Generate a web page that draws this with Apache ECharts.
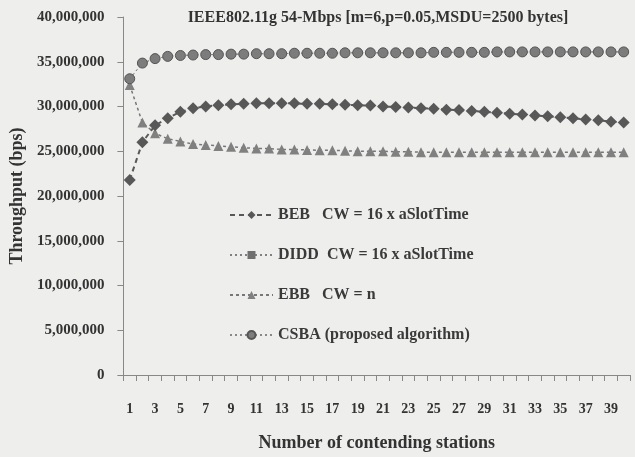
<!DOCTYPE html>
<html>
<head>
<meta charset="utf-8">
<script src="https://cdn.jsdelivr.net/npm/echarts@6/dist/echarts.min.js"></script>
<style>html,body{margin:0;padding:0;background:#eeeeec}#c{width:635px;height:457px}</style>
</head>
<body>
<div id="c"></div>
<script>
const titleText = 'IEEE802.11g 54-Mbps [m=6,p=0.05,MSDU=2500 bytes]';
const xName = 'Number of contending stations';
const yName = 'Throughput (bps)';
const stations = Array.from({length: 40}, (_, i) => String(i + 1));
const seriesNames = ['BEB   CW = 16 x aSlotTime', 'DIDD  CW = 16 x aSlotTime', 'EBB   CW = n', 'CSBA (proposed algorithm)'];
// values in Mbps (millions of bps)
const beb = [21.8, 26.0, 27.9, 28.7, 29.4, 29.8, 30.0, 30.15, 30.25, 30.3, 30.35, 30.35, 30.35, 30.35, 30.3, 30.3, 30.25, 30.2, 30.15, 30.1, 30.0, 29.95, 29.9, 29.8, 29.75, 29.65, 29.6, 29.5, 29.4, 29.3, 29.2, 29.1, 29.0, 28.9, 28.8, 28.7, 28.55, 28.45, 28.3, 28.2];
const ebb = [32.4, 28.2, 27.0, 26.4, 26.1, 25.8, 25.7, 25.6, 25.5, 25.4, 25.3, 25.3, 25.2, 25.2, 25.15, 25.1, 25.1, 25.05, 25.0, 25.0, 25.0, 24.95, 24.95, 24.9, 24.9, 24.9, 24.9, 24.9, 24.9, 24.9, 24.9, 24.9, 24.9, 24.9, 24.9, 24.9, 24.9, 24.9, 24.9, 24.9];
const csba = [33.1, 34.85, 35.35, 35.6, 35.7, 35.75, 35.8, 35.8, 35.85, 35.85, 35.9, 35.9, 35.9, 35.95, 35.95, 35.95, 35.95, 36.0, 36.0, 36.0, 36.0, 36.0, 36.0, 36.0, 36.05, 36.05, 36.05, 36.05, 36.05, 36.1, 36.1, 36.1, 36.1, 36.1, 36.1, 36.1, 36.1, 36.1, 36.1, 36.1];
const didd = csba.slice(); // not visible in the reference: hidden under CSBA
const yMin = 0, yMax = 40000000, yStep = 5000000;

const toBps = a => a.map(v => Math.round(v * 1e6));
const font = 'Liberation Serif';
const chart = echarts.init(document.getElementById('c'), null, {renderer: 'canvas'});
chart.setOption({
  backgroundColor: '#eeeeec',
  animation: false,
  title: {
    text: titleText, left: 373, top: 5, textAlign: 'center',
    textStyle: {fontFamily: font, fontWeight: 'bold', fontSize: 16, color: '#333'}
  },
  grid: {left: 120, right: 5, top: 17, bottom: 78},
  legend: {
    orient: 'vertical', left: 229, top: 207, padding: 0, itemGap: 24, itemWidth: 43, itemHeight: 10,
    data: seriesNames,
    textStyle: {fontFamily: font, fontWeight: 'bold', fontSize: 16, color: '#3a3a3a'}
  },
  xAxis: {
    type: 'category', data: stations, boundaryGap: true,
    name: xName, nameLocation: 'middle', nameGap: 59,
    nameTextStyle: {fontFamily: font, fontWeight: 'bold', fontSize: 18, color: '#333'},
    axisLine: {lineStyle: {color: '#888', width: 1}},
    axisTick: {show: true, length: 6, interval: 0, lineStyle: {color: '#888'}},
    axisLabel: {interval: 1, margin: 27, fontFamily: font, fontWeight: 'bold', fontSize: 14, color: '#333'},
    splitLine: {show: false}
  },
  yAxis: {
    type: 'value', min: yMin, max: yMax, interval: yStep,
    name: yName, nameLocation: 'middle', nameGap: 96,
    nameTextStyle: {fontFamily: font, fontWeight: 'bold', fontSize: 18, color: '#333'},
    axisLine: {show: true, lineStyle: {color: '#888', width: 1}},
    axisTick: {show: true, length: 6, lineStyle: {color: '#888'}},
    axisLabel: {margin: 19, fontFamily: font, fontWeight: 'bold', fontSize: 15, color: '#333',
      formatter: v => v.toLocaleString('en-US')},
    splitLine: {show: false}
  },
  series: [
    {name: seriesNames[0], type: 'line', data: toBps(beb), symbol: 'diamond', symbolSize: 12, z: 4, showAllSymbol: true,
      itemStyle: {color: '#585858'}, lineStyle: {color: '#585858', width: 2, type: [5, 4]}},
    {name: seriesNames[1], type: 'line', data: toBps(didd), symbol: 'rect', symbolSize: 5, z: 2, showAllSymbol: true,
      itemStyle: {color: '#707070'}, lineStyle: {color: '#808080', width: 1, type: [2, 3]}},
    {name: seriesNames[2], type: 'line', data: toBps(ebb), symbol: 'triangle', symbolSize: 10, z: 3, showAllSymbol: true,
      itemStyle: {color: '#808080'}, lineStyle: {color: '#777', width: 1.5, type: [3, 3]}},
    {name: seriesNames[3], type: 'line', data: toBps(csba), symbol: 'circle', symbolSize: 10, z: 5, showAllSymbol: true,
      itemStyle: {color: '#7c7c7c', borderColor: '#555', borderWidth: 1},
      lineStyle: {color: '#888', width: 1, type: [2, 3]}}
  ]
});
</script>
</body>
</html>
